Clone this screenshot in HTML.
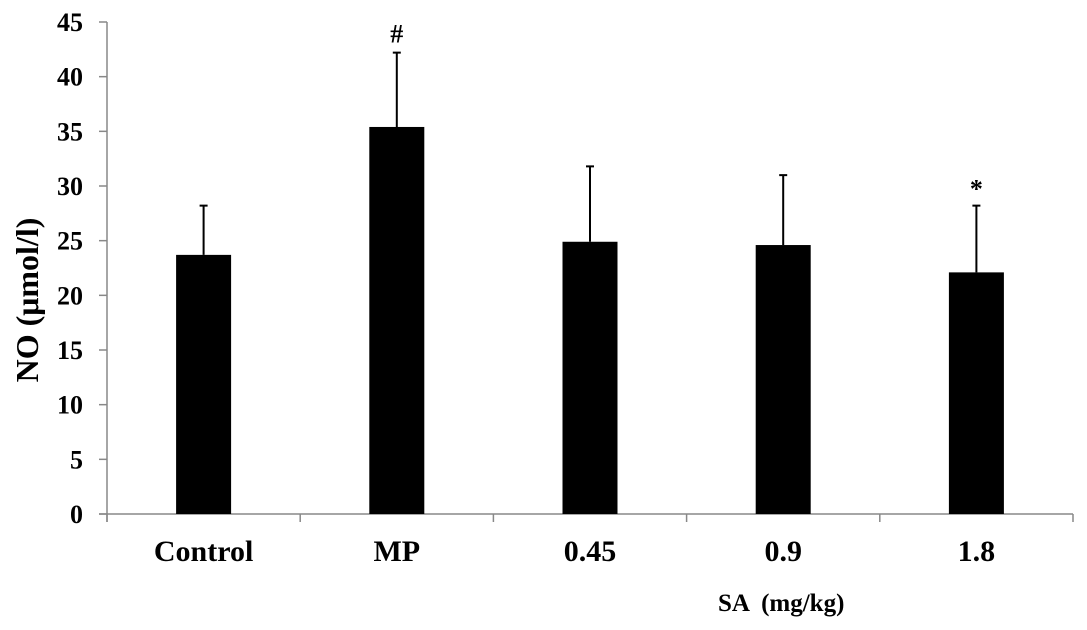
<!DOCTYPE html>
<html><head><meta charset="utf-8"><style>
body{margin:0;background:#fff}
svg{display:block}
text{font-family:"Liberation Serif",serif;font-weight:bold;fill:#000}
</style></head><body>
<svg id="chart" width="1087" height="630" viewBox="0 0 1087 630" xmlns="http://www.w3.org/2000/svg">
<g id="axes"></g>
<g id="bars"></g>
<text transform="translate(38,300) rotate(-90)" text-anchor="middle" font-size="32">NO (μmol/l)</text>
<text x="718" y="611" font-size="25" xml:space="preserve">SA  (mg/kg)</text>
</svg>
<script>
const categories=["Control","MP","0.45","0.9","1.8"];
const means=[23.7,35.4,24.9,24.6,22.1];
const errors=[4.5,6.8,6.9,6.4,6.1];
const marks=["","#","","","*"];
const yTicks=[0,5,10,15,20,25,30,35,40,45];
const NS="http://www.w3.org/2000/svg";
const x0=107,x1=1073,yBase=514,yTop=22,yMax=45;
const y=v=>yBase-(v/yMax)*(yBase-yTop);
const bw=(x1-x0)/categories.length;
const cx=i=>x0+bw*(i+0.5);
function mk(tag,attrs,parent){const e=document.createElementNS(NS,tag);for(const k in attrs)e.setAttribute(k,attrs[k]);parent.appendChild(e);return e;}
const ax=document.getElementById('axes'),bg=document.getElementById('bars');
let l=mk('line',{x1:x0,y1:yTop,x2:x0,y2:yBase+8,stroke:'#888','stroke-width':1.5},ax);


l=mk('line',{x1:x0-8,y1:yBase,x2:x1,y2:yBase,stroke:'#888','stroke-width':1.5},ax);


yTicks.forEach(t=>{
  const tk=mk('line',{x1:x0-8,y1:y(t),x2:x0,y2:y(t),stroke:'#888','stroke-width':1.5},ax);
  
  
  const tx=mk('text',{x:83,y:y(t)+9,'text-anchor':'end','font-size':26},ax);
  
  
  tx.textContent=t;
});
for(let i=0;i<=categories.length;i++){
  const tk=mk('line',{x1:x0+bw*i,y1:yBase,x2:x0+bw*i,y2:yBase+8,stroke:'#888','stroke-width':1.5},ax);
  
  
}
categories.forEach((c,i)=>{
  const bwid=55;
  const r=mk('rect',{x:cx(i)-bwid/2,y:y(means[i]),width:bwid,height:yBase-y(means[i]),fill:'#000'},bg);
  
  
  const top=y(means[i]+errors[i]);
  const e=mk('path',{d:`M${cx(i)} ${y(means[i])}V${top}M${cx(i)-4} ${top}H${cx(i)+4}`,stroke:'#000','stroke-width':2,fill:'none'},bg);
  
  
  const tx=mk('text',{x:cx(i),y:561,'text-anchor':'middle','font-size':30},bg);
  
  
  tx.textContent=c;
  if(marks[i]){
    const m=mk('text',{x:cx(i),y:top-(marks[i]=='*'?8:10),'text-anchor':'middle','font-size':26},bg);
    
    
    m.textContent=marks[i];
  }
});
</script>
</body></html>
